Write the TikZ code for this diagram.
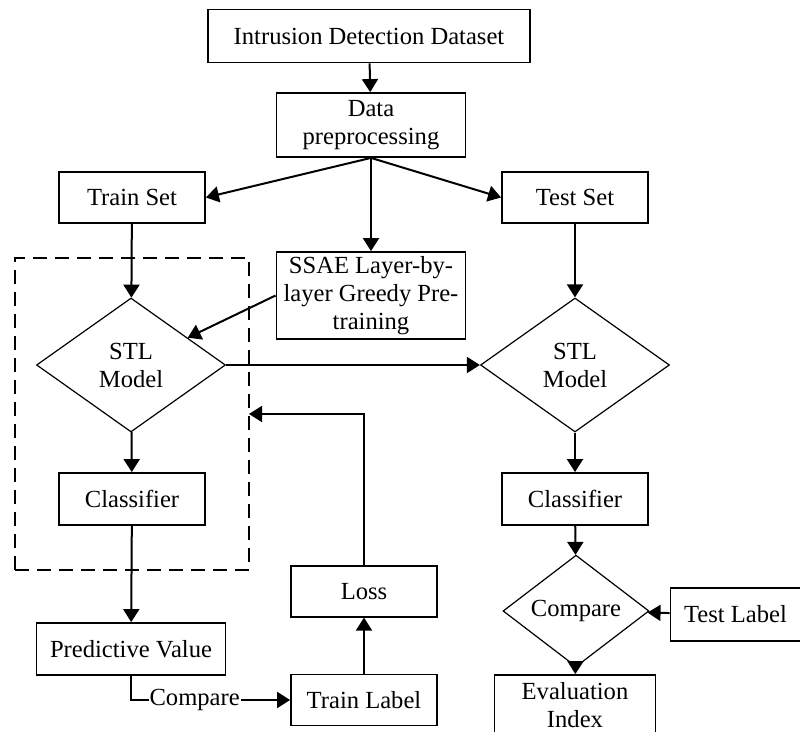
\documentclass[tikz,border=0pt]{standalone}
\usepackage{fontspec}
\setmainfont{Liberation Serif}
\usetikzlibrary{
  shapes.geometric, % diamond decision nodes
  arrows.meta,      % filled triangle tips
  positioning       % right=of, above=of
}
\tikzset{
    x=0.5pt, y=-0.5pt,
    every node/.style = {
        font=\fontsize{12.3}{14}\selectfont,
        align=center,
        inner sep=2pt
    },
    box/.append style = {rectangle, draw, line width=0.9pt,
        minimum width=73pt, minimum height=25.5pt},
    wide/.append style = {minimum width=94.5pt},
    decision/.append style = {diamond, draw, line width=0.6pt, inner sep=0pt,
        minimum width=94.5pt, minimum height=67pt},
    dashbox/.append style = {draw, dash pattern=on 7pt off 4pt, line width=0.9pt,
        outer sep=0pt, minimum width=117pt, minimum height=156pt},
    virtual/.append style = {fill=white, inner sep=0.5pt},
    flow/.append style = {->, line width=1pt},
    >={Triangle[length=6.5pt,width=8pt]}
}

\begin{document}
\begin{tikzpicture}
  \clip (0,0) rectangle (800,732);

  %% top of the flow
  \node [box, minimum width=161pt, minimum height=26.5pt] (IDS) at (369,36) {Intrusion Detection Dataset};
  \node [box, wide, minimum height=32pt] (DP) at (371,125) {Data\\preprocessing};
  \draw [flow] (IDS) to (DP);

  \node [box] (trainset) at (132,197.5) {Train Set};
  \node [box] (testset) at (575,197.5) {Test Set};
  \node [box, wide, minimum height=43.5pt] (SSAE) at (371,295.5) {SSAE Layer-by-\\layer Greedy Pre-\\training};
  \draw [flow] (DP.south) to (trainset.east);
  \draw [flow] (DP.south) to (testset.west);
  \draw [flow] (DP) to (SSAE);

  %% training branch
  \node [dashbox] (STLbox) at (132,414) {};
  \node [decision] (STL1) at (131,365) {STL\\Model};
  \node [box, minimum height=26pt] (cls1) at (132,499) {Classifier};
  \node [box, wide, minimum height=26pt] (PV) at (131,649) {Predictive Value};
  \draw [flow] (trainset) to (STL1);
  \draw [flow] (SSAE.west) to (STL1);
  \draw [flow] (STL1) to (cls1);
  \draw [flow] (cls1) to (PV);

  \node [box] (trainlbl) at (364,700) {Train Label};
  \node [box, above=28pt of trainlbl] (loss) {Loss};
  \draw [flow] (PV.south) |- node [virtual, pos=0.7] (cmplbl) {Compare} (trainlbl.west);
  \draw [flow] (trainlbl) to (loss);
  \draw [flow] (loss.north) |- (STLbox.east);

  %% test branch
  \node [decision] (STL2) at (575,365) {STL\\Model};
  \node [box, minimum height=26pt] (cls2) at (575,499) {Classifier};
  \node [decision, minimum width=73pt, minimum height=43pt] (cmp2) at (576,611) {Compare};
  \node [box, minimum width=65pt, minimum height=26.5pt, right=10pt of cmp2, yshift=-1.75pt] (testlbl) {Test Label};
  \node [box, minimum width=80.5pt, minimum height=30pt] (EI) at (575,705) {Evaluation\\Index};
  \draw [flow] (STL1.east) to (STL2.west);
  \draw [flow] (testset) to (STL2);
  \draw [flow] (STL2) to (cls2);
  \draw [flow] (cls2) to (cmp2);
  \draw [flow] (testlbl) to (cmp2);
  \draw [flow] (cmp2) to (EI);

\end{tikzpicture}
\end{document}
